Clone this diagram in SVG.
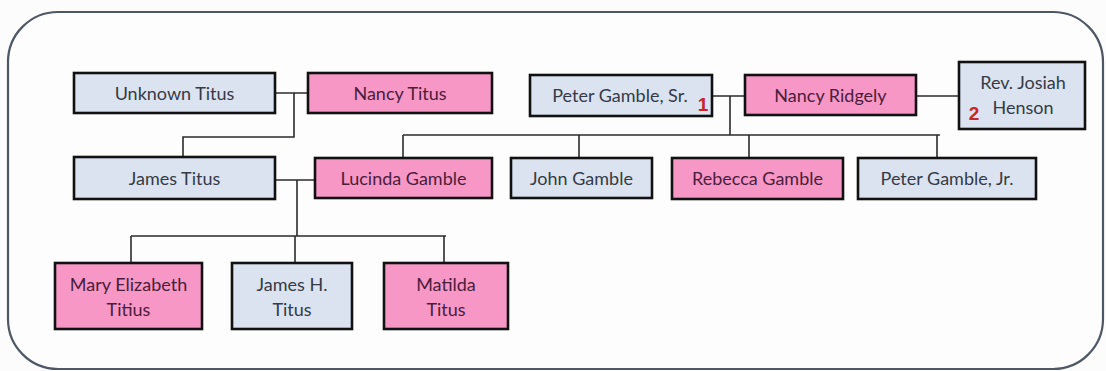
<svg xmlns="http://www.w3.org/2000/svg" width="1106" height="371" viewBox="0 0 1106 371">
<style>
.frame{fill:#fdfdfe;stroke:#4e5864;stroke-width:2.2}
.b{fill:#dbe3f0;stroke:#111;stroke-width:2.6}
.p{fill:#f797c6;stroke:#111;stroke-width:2.6}
.t{font-family:Lato,"Liberation Sans",sans-serif;font-size:18px;text-anchor:middle}
.tb{fill:#343a46}
.tp{fill:#4a1d3c}
.n{font-family:"Liberation Sans",sans-serif;font-size:19px;font-weight:bold;fill:#c9252c}
.c{fill:none;stroke:#2b2b2b;stroke-width:1.6}
</style>
<rect width="1106" height="371" fill="#fcfcfd"/>
<rect class="frame" x="8" y="12" width="1095" height="357" rx="50" ry="50"/>
<g id="connectors">
<path class="c" d="M275 93H308M294 93V137H183V157"/>
<path class="c" d="M275 180H315M297 180V236M131 236H446M131 236V263M295 236V263M444 236V263"/>
<path class="c" d="M712 96H745M730 96V135M403 135H940M403 135V158M579 135V158M749 135V158M937 135V158"/>
<path class="c" d="M916 96H959"/>
</g>
<g id="unknown-titus"><rect class="b" x="74" y="73" width="201" height="40"/><text class="t tb" x="174.5" y="100">Unknown Titus</text></g>
<g id="nancy-titus"><rect class="p" x="308" y="73" width="184" height="40"/><text class="t tp" x="400" y="100">Nancy Titus</text></g>
<g id="peter-gamble-sr"><rect class="b" x="530" y="75" width="182" height="41"/><text class="t tb" x="620" y="102">Peter Gamble, Sr.</text><text class="n" x="703" y="111" text-anchor="middle">1</text></g>
<g id="nancy-ridgely"><rect class="p" x="745" y="75" width="171" height="40"/><text class="t tp" x="830.5" y="102">Nancy Ridgely</text></g>
<g id="rev-josiah-henson"><rect class="b" x="959" y="62" width="126" height="67"/><text class="t tb" x="1023" y="89">Rev. Josiah</text><text class="t tb" x="1023" y="114">Henson</text><text class="n" x="974" y="120" text-anchor="middle">2</text></g>
<g id="james-titus"><rect class="b" x="74" y="157" width="201" height="42"/><text class="t tb" x="174.5" y="185">James Titus</text></g>
<g id="lucinda-gamble"><rect class="p" x="315" y="158" width="177" height="40"/><text class="t tp" x="403.5" y="185">Lucinda Gamble</text></g>
<g id="john-gamble"><rect class="b" x="511" y="158" width="141" height="40"/><text class="t tb" x="581.5" y="185">John Gamble</text></g>
<g id="rebecca-gamble"><rect class="p" x="672" y="158" width="171" height="41"/><text class="t tp" x="757.5" y="185">Rebecca Gamble</text></g>
<g id="peter-gamble-jr"><rect class="b" x="858" y="158" width="178" height="41"/><text class="t tb" x="947" y="185">Peter Gamble, Jr.</text></g>
<g id="mary-elizabeth-titius"><rect class="p" x="55" y="263" width="147" height="66"/><text class="t tp" x="128.5" y="291">Mary Elizabeth</text><text class="t tp" x="128.5" y="316">Titius</text></g>
<g id="james-h-titus"><rect class="b" x="232" y="263" width="120" height="66"/><text class="t tb" x="292" y="291">James H.</text><text class="t tb" x="292" y="316">Titus</text></g>
<g id="matilda-titus"><rect class="p" x="384" y="263" width="124" height="66"/><text class="t tp" x="446" y="291">Matilda</text><text class="t tp" x="446" y="316">Titus</text></g>
</svg>
